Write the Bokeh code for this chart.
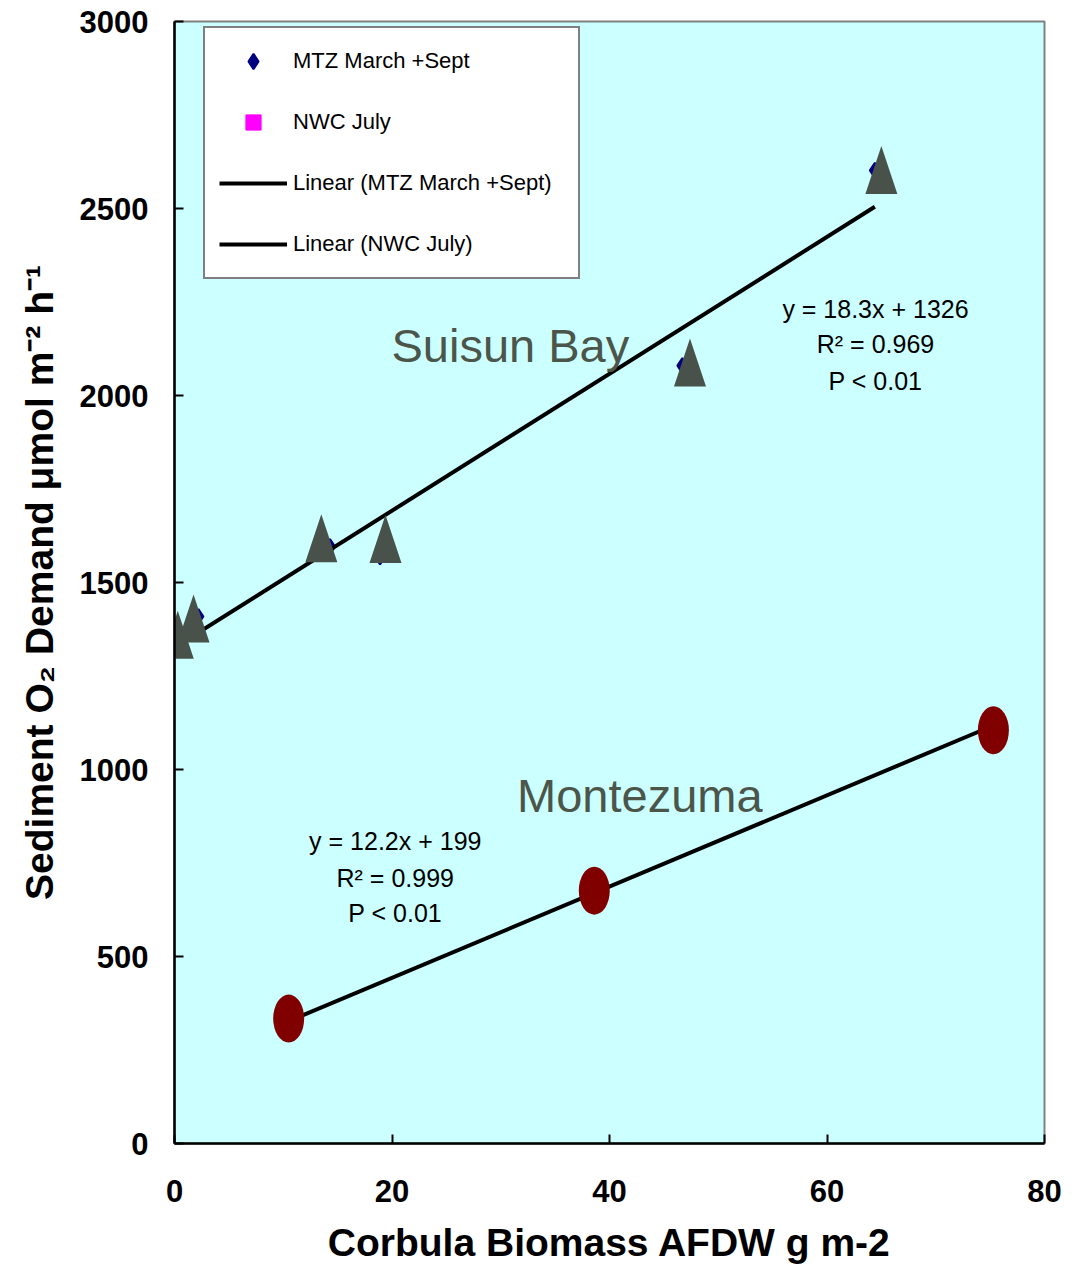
from bokeh.plotting import figure
from bokeh.models import Range1d, Label, Legend, LegendItem, FixedTicker
from bokeh.embed import file_html
from bokeh.resources import INLINE

# --- data -------------------------------------------------------------
# MTZ March + Sept measurements (Corbula biomass, sediment O2 demand)
mtz_x = [0.0, 2.2, 14.3, 18.9, 46.7, 64.4]
mtz_y = [1377, 1409, 1596, 1568, 2080, 2602]

# Suisun Bay station symbols
suisun_x = [0.3, 1.75, 13.5, 19.4, 47.4, 65.0]
suisun_y = [1360, 1404, 1618, 1616, 2088, 2603]

# NWC July measurements (Montezuma)
nwc_x = [10.5, 38.6, 75.3]
nwc_y = [334, 676, 1105]

# fitted regressions: slope, intercept, x extent
fit_names = ["Linear (MTZ March +Sept)", "Linear (NWC July)"]
fit_slope = [18.3, 12.2]
fit_intercept = [1326, 199]
fit_xmin = [0.0, 10.5]
fit_xmax = [64.4, 75.3]

x_ticks = [0, 20, 40, 60, 80]
y_ticks = [0, 500, 1000, 1500, 2000, 2500, 3000]

FONT = "Liberation Sans"
TRI_COLOR = "#48514a"
SITE_COLOR = "#4b5549"

# --- figure -----------------------------------------------------------
p = figure(width=1078, height=1268,
           x_range=Range1d(0, 80), y_range=Range1d(0, 3000),
           output_backend="svg", toolbar_location=None,
           min_border_left=174, min_border_right=34,
           min_border_top=21, min_border_bottom=125)
p.background_fill_color = "#CCFFFF"
p.border_fill_color = "white"
p.outline_line_color = "#808080"
p.outline_line_width = 2
p.grid.visible = False

for ax in (p.xaxis[0], p.yaxis[0]):
    ax.axis_line_color = "black"
    ax.axis_line_width = 2.5
    ax.major_tick_in = 9
    ax.major_tick_out = 0
    ax.major_tick_line_width = 2
    ax.major_tick_line_color = "black"
    ax.minor_tick_line_color = None
    ax.major_label_text_font = FONT
    ax.major_label_text_font_style = "bold"
    ax.major_label_text_font_size = "31px"
    ax.major_label_text_color = "black"
    ax.axis_label_text_font = FONT
    ax.axis_label_text_font_style = "bold"
    ax.axis_label_text_font_size = "39px"
    ax.axis_label_text_color = "black"

p.xaxis.ticker = FixedTicker(ticks=x_ticks)
p.yaxis.ticker = FixedTicker(ticks=y_ticks)
p.xaxis.major_label_standoff = 36
p.yaxis.major_label_standoff = 26
p.xaxis.axis_label = "Corbula Biomass AFDW g m-2"
p.yaxis.axis_label = "Sediment O\u2082 Demand \u03bcmol m\u207b\u00b2 h\u207b\u00b9"
p.xaxis.axis_label_standoff = 16
p.yaxis.axis_label_standoff = 16

# --- marks ------------------------------------------------------------
r_mtz = p.scatter(mtz_x, mtz_y, marker="diamond", size=15,
                  fill_color="#000080", line_color="#000080", line_width=2)
r_nwc = p.scatter(nwc_x, nwc_y, marker="square", size=13,
                  fill_color="#FF00FF", line_color="#FF00FF")

line_renderers = []
for s, b, x0, x1 in zip(fit_slope, fit_intercept, fit_xmin, fit_xmax):
    xs = [x0, x1]
    ys = [s * x0 + b, s * x1 + b]
    line_renderers.append(p.line(xs, ys, line_color="black", line_width=4))

# tall triangles: half-width and half-height converted through the axis scales
frame_w, frame_h = 870.0, 1122.0
px_x = 80.0 / frame_w
px_y = 3000.0 / frame_h
half_w = 16 * px_x
half_h = 24 * px_y
tri_xs = [[cx - half_w, cx, cx + half_w] for cx in suisun_x]
tri_ys = [[cy - half_h, cy + half_h, cy - half_h] for cy in suisun_y]
p.patches(tri_xs, tri_ys, fill_color=TRI_COLOR, line_color=None)

p.ellipse(nwc_x, nwc_y, width=31, height=48,
          width_units="screen", height_units="screen",
          fill_color="#800000", line_color=None)

# --- legend -----------------------------------------------------------
legend = Legend(items=[
    LegendItem(label="MTZ March +Sept", renderers=[r_mtz]),
    LegendItem(label="NWC July", renderers=[r_nwc]),
    LegendItem(label=fit_names[0], renderers=[line_renderers[0]]),
    LegendItem(label=fit_names[1], renderers=[line_renderers[1]]),
], location=(29, 864))
legend.margin = 0
legend.padding = 14
legend.spacing = 23
legend.glyph_width = 68
legend.glyph_height = 38
legend.label_height = 38
legend.label_width = 271
legend.label_standoff = 6
legend.label_text_font = FONT
legend.label_text_font_size = "22px"
legend.label_text_color = "black"
legend.border_line_color = "black"
legend.border_line_width = 2
legend.background_fill_color = "white"
legend.background_fill_alpha = 1.0
p.add_layout(legend, "center")

# --- annotations ------------------------------------------------------
p.add_layout(Label(x=19.95, y=2133, text="Suisun Bay", text_font=FONT,
                   text_font_size="47px", text_color=SITE_COLOR,
                   text_align="left", text_baseline="alphabetic"))
p.add_layout(Label(x=31.5, y=931, text="Montezuma", text_font=FONT,
                   text_font_size="47px", text_color=SITE_COLOR,
                   text_align="left", text_baseline="alphabetic"))

eq_font = "25px"
for txt, yy in [("y = 18.3x + 1326", 2231), ("R\u00b2 = 0.969", 2137), ("P < 0.01", 2040)]:
    p.add_layout(Label(x=64.46, y=yy, text=txt, text_font=FONT,
                       text_font_size=eq_font, text_color="black",
                       text_align="center", text_baseline="alphabetic"))
for txt, yy in [("y = 12.2x + 199", 810), ("R\u00b2 = 0.999", 711), ("P < 0.01", 615)]:
    p.add_layout(Label(x=20.3, y=yy, text=txt, text_font=FONT,
                       text_font_size=eq_font, text_color="black",
                       text_align="center", text_baseline="alphabetic"))

open("out.html", "w").write(file_html(p, INLINE))
